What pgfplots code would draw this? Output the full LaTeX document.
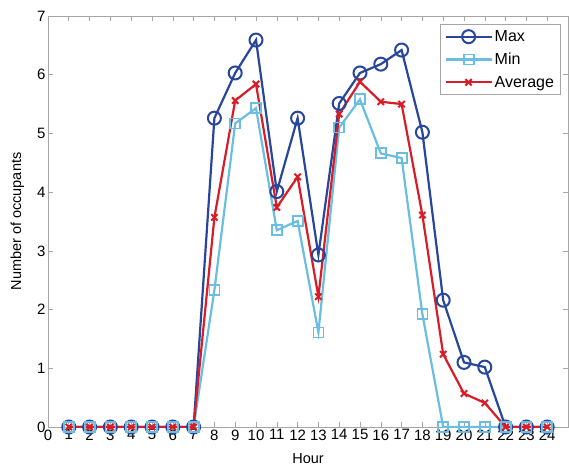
\documentclass[border=0pt]{standalone}
\usepackage{pgfplots}
\pgfplotsset{compat=1.18}
\usepackage{fontspec}
\setmainfont{Liberation Sans}
\definecolor{cmax}{RGB}{40,70,155}
\definecolor{cmin}{RGB}{105,190,225}
\definecolor{cavg}{RGB}{215,30,40}
\begin{document}
\begin{tikzpicture}
\begin{axis}[
  scale only axis, width=520pt, height=411pt,
  xmin=0, xmax=25, ymin=0, ymax=7,
  xtick={0,1,...,24}, ytick={0,1,...,7},
  tick align=inside, major tick length=5pt,
  axis line style={gray!70}, tick style={gray!70, semithick},
  /pgf/number format/assume math mode=true,
  ticklabel style={font=\fontsize{15}{16}\selectfont},
  xticklabel style={yshift=1pt},
  yticklabel style={xshift=1pt},
  label style={font=\fontsize{14.5}{16}\selectfont},
  xlabel={Hour}, ylabel={Number of occupants},
  xlabel style={yshift=-7pt}, ylabel style={yshift=6pt},
  legend style={at={(0.985,0.98)}, anchor=north east, draw=gray!70, font=\fontsize{16}{18}\selectfont, row sep=6pt, inner sep=4pt},
  legend cell align=left,
  legend image code/.code={\draw[#1] (0pt,0pt) -- (23pt,0pt); \draw[#1, only marks] plot coordinates {(23pt,0pt)}; \draw[#1] (23pt,0pt) -- (46pt,0pt);},
]
\addplot[cmax, line width=2.2pt, mark=o, mark size=6.5pt, mark options={line width=2pt}] coordinates {
(1,0)(2,0)(3,0)(4,0)(5,0)(6,0)(7,0)(8,5.26)(9,6.03)(10,6.59)(11,4.01)(12,5.26)(13,2.93)(14,5.51)(15,6.03)(16,6.18)(17,6.42)(18,5.02)(19,2.16)(20,1.10)(21,1.02)(22,0)(23,0)(24,0)};
\addlegendentry{Max}
\addplot[cmin, line width=2.2pt, mark=square, mark size=5pt, mark options={line width=1.8pt}] coordinates {
(1,0)(2,0)(3,0)(4,0)(5,0)(6,0)(7,0)(8,2.33)(9,5.17)(10,5.43)(11,3.35)(12,3.51)(13,1.61)(14,5.10)(15,5.58)(16,4.66)(17,4.58)(18,1.92)(19,0)(20,0)(21,0)(22,0)(23,0)(24,0)};
\addlegendentry{Min}
\addplot[cavg, line width=2.2pt, mark=x, mark size=4.5pt, mark options={line width=2pt}] coordinates {
(1,0)(2,0)(3,0)(4,0)(5,0)(6,0)(7,0)(8,3.57)(9,5.56)(10,5.84)(11,3.74)(12,4.26)(13,2.22)(14,5.33)(15,5.88)(16,5.54)(17,5.50)(18,3.61)(19,1.24)(20,0.57)(21,0.41)(22,0)(23,0)(24,0)};
\addlegendentry{Average}
\end{axis}
\path (current axis.south west) ++(-48pt,-41pt) coordinate (bl);
\path (current axis.north east) ++(1pt,16pt) coordinate (tr);
\path (bl) rectangle (tr);
\end{tikzpicture}
\end{document}
